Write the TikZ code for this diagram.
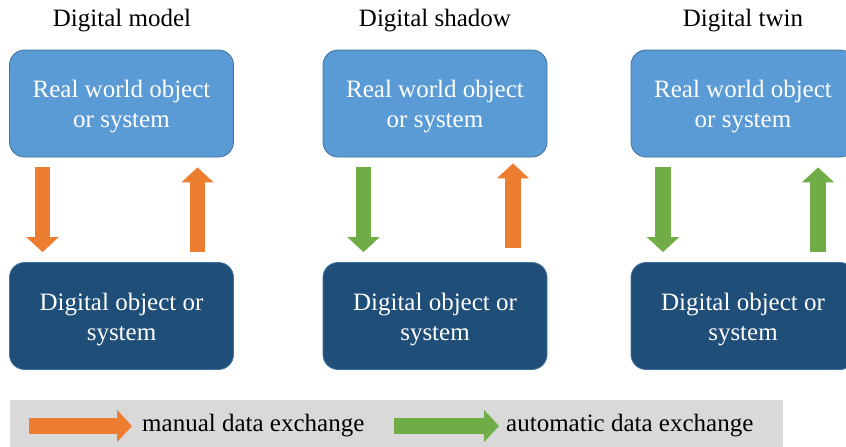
\documentclass[tikz,border=0pt]{standalone}
\usepackage{fontspec}
\setmainfont{Liberation Serif}
\usetikzlibrary{arrows.meta,positioning}

\definecolor{realblue}{HTML}{5B9BD5}
\definecolor{digiblue}{HTML}{1F4E79}
\definecolor{edgeblue}{HTML}{41719C}
\definecolor{manualc}{HTML}{ED7D31}
\definecolor{autoc}{HTML}{70AD47}
\definecolor{legendbg}{HTML}{D9D9D9}

\tikzset{
  txt/.style={font=\fontsize{25}{30}\selectfont, inner sep=0pt},
  box/.style={rounded corners=15pt, draw=edgeblue, line width=0.8pt,
    minimum width=224pt, minimum height=107pt, inner sep=0pt},
  realbox/.style={box, fill=realblue},
  digibox/.style={box, fill=digiblue},
  boxtext/.style={txt, align=center, text=white},
  title/.style={txt, text=black},
  blockarrow/.style={line width=15.5pt,
    -{Triangle[length=15pt,width=31.5pt]}},
  manual/.style={blockarrow, draw=manualc},
  auto/.style={blockarrow, draw=autoc},
}

\begin{document}
\begin{tikzpicture}[x=1pt, y=-1pt]
  \useasboundingbox (0,0) rectangle (846,447);

  % three columns: titles and boxes
  \node[title] (t1) at (122,21) {Digital model};
  \node[title] (t2) at (435,21) {Digital shadow};
  \node[title] (t3) at (743,21) {Digital twin};

  \node[realbox] (r1) at (121.5,103.5) {};
  \node[realbox] (r2) at (435,103.5) {};
  \node[realbox] (r3) at (743,103.5) {};
  \node[digibox] (d1) at (121.5,316) {};
  \node[digibox] (d2) at (435,316) {};
  \node[digibox] (d3) at (743,316) {};

  \foreach \i in {1,2,3} {
    \node[boxtext] (r\i t) at ([yshift=-3.5pt]r\i.center) {Real world object\\or system};
    \node[boxtext] (d\i t) at ([yshift=-3.5pt]d\i.center) {Digital object or\\system};
  }

  % data exchange arrows between real and digital objects
  \draw[manual] ([xshift=-79pt,yshift=-10pt]r1.south) -- ([xshift=-79pt,yshift=10pt]d1.north);
  \draw[manual] ([xshift=76pt,yshift=10pt]d1.north) -- ([xshift=76pt,yshift=-10pt]r1.south);

  \draw[auto]   ([xshift=-71.5pt,yshift=-10pt]r2.south) -- ([xshift=-71.5pt,yshift=10pt]d2.north);
  \draw[manual] ([xshift=78pt,yshift=14pt]d2.north) -- ([xshift=78pt,yshift=-6pt]r2.south);

  \draw[auto]   ([xshift=-80pt,yshift=-10pt]r3.south) -- ([xshift=-80pt,yshift=10pt]d3.north);
  \draw[auto]   ([xshift=75pt,yshift=10pt]d3.north) -- ([xshift=75pt,yshift=-10pt]r3.south);

  % legend
  \fill[legendbg] (10,400) rectangle (783,447);
  \coordinate (m0) at (29,426);
  \node[txt, anchor=west] (ml) at (142,426) {manual data exchange};
  \draw[manual] (m0) -- ([xshift=-10pt]ml.west);
  \coordinate (a0) at (394,426);
  \node[txt, anchor=west] (al) at (506,426) {automatic data exchange};
  \draw[auto] (a0) -- ([xshift=-7pt]al.west);
\end{tikzpicture}
\end{document}
